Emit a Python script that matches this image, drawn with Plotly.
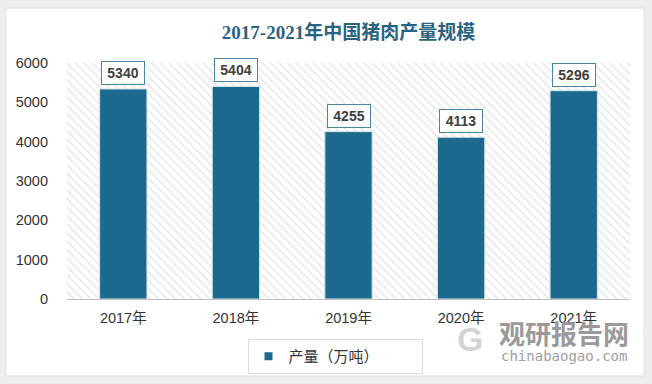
import plotly.graph_objects as go

categories = ["2017年", "2018年", "2019年", "2020年", "2021年"]
values = [5340, 5404, 4255, 4113, 5296]
series_name = "产量（万吨）"
title_text = "2017-2021年中国猪肉产量规模"
y_max = 6000

BAR = "#1b6a8d"
L, R, T, B = 67, 22, 63, 85
W, H = 652, 384
pw, ph = W - L - R, H - T - B

def px_x(p):
    return (p - L) / pw

def px_y(p):
    return (H - B - p) / ph

fig = go.Figure()

# hatched plot background
fig.add_trace(go.Bar(
    x=[0.5], y=[y_max], width=[1], xaxis="x", yaxis="y",
    marker=dict(color="white", line=dict(width=0),
                pattern=dict(shape="\\", fgcolor="#d2d2d2", bgcolor="white", size=6, solidity=0.3)),
    showlegend=False, hoverinfo="skip",
))

fig.add_trace(go.Bar(
    x=categories, y=values, name=series_name, xaxis="x2", yaxis="y",
    marker=dict(color=BAR, line=dict(color="#d6e4ea", width=1)),
    width=0.42, showlegend=False,
))

# legend entry (small square marker)
fig.add_trace(go.Scatter(
    x=[None], y=[None], mode="markers", name=series_name, xaxis="x2", yaxis="y",
    marker=dict(symbol="square", size=8, color=BAR),
))

for c, v in zip(categories, values):
    fig.add_annotation(
        x=c, y=v, xref="x2", yref="y", text=f"<b>{v}</b>", showarrow=False,
        yanchor="bottom", yshift=4, width=36,
        font=dict(family="Liberation Sans, Arial", size=14, color="#404040"),
        bgcolor="white", bordercolor="#4a86a3", borderwidth=1, borderpad=3,
    )

# card
fig.add_shape(type="rect", xref="paper", yref="paper", layer="below",
              x0=px_x(6), x1=px_x(644), y0=px_y(376), y1=px_y(8),
              fillcolor="white", line=dict(color="#e0e0e0", width=1))

# watermark
fig.add_annotation(xref="paper", yref="paper", x=px_x(631), y=px_y(332), xanchor="right", yanchor="middle",
                   text="<b>观研报告网</b>", showarrow=False,
                   font=dict(family="Noto Sans CJK SC", size=26, color="#9a9a9a"))
fig.add_annotation(xref="paper", yref="paper", x=px_x(629), y=px_y(356), xanchor="right", yanchor="middle",
                   text="chinabaogao.com", showarrow=False,
                   font=dict(family="DejaVu Sans Mono, Liberation Mono", size=14, color="#a0a0a0"))
fig.add_annotation(xref="paper", yref="paper", x=px_x(470), y=px_y(339), xanchor="center", yanchor="middle",
                   text="<b>G</b>", showarrow=False,
                   font=dict(family="Liberation Sans", size=34, color="#d4d4d4"))

fig.update_layout(
    width=W, height=H,
    margin=dict(l=L, r=R, t=T, b=B, autoexpand=False),
    paper_bgcolor="#eeeeee", plot_bgcolor="white",
    title=dict(text=f"<b>{title_text}</b>", x=0.5, xref="paper", xanchor="center",
               y=1 - 32 / H, yanchor="middle",
               font=dict(family="Liberation Serif, Noto Sans CJK SC", size=19, color="#2a6381")),
    barmode="overlay",
    xaxis=dict(range=[0, 1], visible=False, fixedrange=True),
    xaxis2=dict(overlaying="x", side="bottom", type="category", showgrid=False,
                showline=True, linecolor="#bfbfbf", linewidth=1, ticks="", ticklabelstandoff=6,
                tickfont=dict(family="Liberation Sans, Noto Sans CJK SC", size=14.5, color="#333333")),
    yaxis=dict(range=[0, y_max], dtick=1000, showgrid=False, zeroline=False, ticks="",
               tickfont=dict(family="Liberation Sans", size=14.5, color="#333333"), ticklabelstandoff=18),
    legend=dict(orientation="h", x=px_x(335), xanchor="center", y=px_y(339), yanchor="top",
                bordercolor="#dcdcdc", borderwidth=1, bgcolor="white",
                font=dict(family="Noto Sans CJK SC", size=15, color="#333333"),
                entrywidth=128, itemwidth=30),
    showlegend=True,
)

fig.write_html("out.html", config={"displayModeBar": False},
               post_script="document.body.style.margin='0';document.body.style.overflow='hidden';")
